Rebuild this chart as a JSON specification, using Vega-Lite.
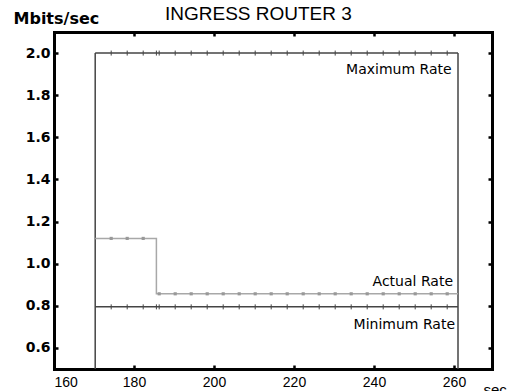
{
  "$schema": "https://vega.github.io/schema/vega-lite/v6.json",
  "width": 438,
  "height": 337,
  "autosize": {"type": "none"},
  "padding": {"left": 54, "top": 32, "right": 22, "bottom": 22},
  "background": "white",
  "view": {"stroke": null, "fill": "white"},
  "title": {"text": "INGRESS ROUTER 3", "anchor": "start", "dx": 152, "offset": -29, "baseline": "alphabetic", "font": "Liberation Sans", "fontSize": 19, "fontWeight": "normal", "color": "black"},
  "resolve": {"axis": {"x": "independent", "y": "independent"}},
  "datasets": {
    "lines": [
      {"series": "max", "t": 170.3, "v": 2.0, "o": 1},
      {"series": "max", "t": 261, "v": 2.0, "o": 2},
      {"series": "min", "t": 170.3, "v": 0.795, "o": 1},
      {"series": "min", "t": 261, "v": 0.795, "o": 2},
      {"series": "actual", "t": 170.3, "v": 1.12, "o": 1},
      {"series": "actual", "t": 185.6, "v": 1.12, "o": 2},
      {"series": "actual", "t": 185.6, "v": 0.857, "o": 3},
      {"series": "actual", "t": 261, "v": 0.857, "o": 4}
    ],
    "bounds": [
      {"t": 170.3, "v0": 0.5, "v1": 2.0},
      {"t": 261, "v0": 0.5, "v1": 2.0}
    ],
    "limitMarks": [
      {"t": 174.3, "max": 2.0, "min": 0.795}, {"t": 178.3, "max": 2.0, "min": 0.795},
      {"t": 182.3, "max": 2.0, "min": 0.795}, {"t": 185.6, "max": 2.0, "min": 0.795},
      {"t": 186.3, "max": 2.0, "min": 0.795}, {"t": 190.3, "max": 2.0, "min": 0.795},
      {"t": 194.3, "max": 2.0, "min": 0.795}, {"t": 198.3, "max": 2.0, "min": 0.795},
      {"t": 202.3, "max": 2.0, "min": 0.795}, {"t": 206.3, "max": 2.0, "min": 0.795},
      {"t": 210.3, "max": 2.0, "min": 0.795}, {"t": 214.3, "max": 2.0, "min": 0.795},
      {"t": 218.3, "max": 2.0, "min": 0.795}, {"t": 222.3, "max": 2.0, "min": 0.795},
      {"t": 226.3, "max": 2.0, "min": 0.795}, {"t": 230.3, "max": 2.0, "min": 0.795},
      {"t": 234.3, "max": 2.0, "min": 0.795}, {"t": 238.3, "max": 2.0, "min": 0.795},
      {"t": 242.3, "max": 2.0, "min": 0.795}, {"t": 246.3, "max": 2.0, "min": 0.795},
      {"t": 250.3, "max": 2.0, "min": 0.795}, {"t": 254.3, "max": 2.0, "min": 0.795},
      {"t": 258.3, "max": 2.0, "min": 0.795}
    ],
    "actualMarks": [
      {"t": 174.3, "v": 1.12}, {"t": 178.3, "v": 1.12}, {"t": 182.3, "v": 1.12},
      {"t": 186.3, "v": 0.857}, {"t": 190.3, "v": 0.857}, {"t": 194.3, "v": 0.857},
      {"t": 198.3, "v": 0.857}, {"t": 202.3, "v": 0.857}, {"t": 206.3, "v": 0.857},
      {"t": 210.3, "v": 0.857}, {"t": 214.3, "v": 0.857}, {"t": 218.3, "v": 0.857},
      {"t": 222.3, "v": 0.857}, {"t": 226.3, "v": 0.857}, {"t": 230.3, "v": 0.857},
      {"t": 234.3, "v": 0.857}, {"t": 238.3, "v": 0.857}, {"t": 242.3, "v": 0.857},
      {"t": 246.3, "v": 0.857}, {"t": 250.3, "v": 0.857}, {"t": 254.3, "v": 0.857},
      {"t": 258.3, "v": 0.857}
    ],
    "labels": [
      {"label": "Maximum Rate", "t": 259.4, "v": 1.92},
      {"label": "Actual Rate", "t": 259.75, "v": 0.913},
      {"label": "Minimum Rate", "t": 260.25, "v": 0.709}
    ]
  },
  "layer": [
    {
      "data": {"name": "bounds"},
      "mark": {"type": "rule", "color": "#444444", "strokeWidth": 1.5},
      "encoding": {
        "x": {"field": "t", "type": "quantitative", "scale": {"domain": [160, 269.5], "nice": false, "zero": false},
          "axis": {"orient": "bottom", "values": [160, 180, 200, 220, 240, 260], "grid": false,
            "domain": true, "domainWidth": 3, "domainColor": "black", "domainCap": "square",
            "tickSize": -4, "tickWidth": 2.5, "tickColor": "black", "labelPadding": 10,
            "labelFont": "Liberation Sans", "labelFontSize": 14, "labelColor": "black",
            "title": "sec", "titleFont": "Liberation Sans", "titleFontSize": 15, "titleFontWeight": "normal", "titleColor": "black",
            "titleAlign": "left", "titleBaseline": "alphabetic", "titleAnchor": null, "titleX": 429, "titleY": 25}},
        "y": {"field": "v0", "type": "quantitative", "scale": {"domain": [0.5, 2.1], "nice": false, "zero": false},
          "axis": {"orient": "left", "values": [0.6, 0.8, 1.0, 1.2, 1.4, 1.6, 1.8, 2.0], "format": ".1f", "grid": false,
            "domain": true, "domainWidth": 3, "domainColor": "black", "domainCap": "square",
            "tickSize": -4, "tickWidth": 2.5, "tickColor": "black", "labelPadding": 8,
            "labelFont": "DejaVu Sans", "labelFontSize": 14, "labelFontWeight": "bold", "labelColor": "black",
            "title": "Mbits/sec", "titleFont": "DejaVu Sans", "titleFontSize": 16, "titleFontWeight": "bold", "titleColor": "black",
            "titleAngle": 0, "titleAlign": "left", "titleBaseline": "alphabetic", "titleAnchor": null, "titleX": -41, "titleY": -9}},
        "y2": {"field": "v1"}
      }
    },
    {
      "data": {"name": "lines"},
      "mark": {"type": "line", "strokeWidth": 1.5},
      "encoding": {
        "x": {"field": "t", "type": "quantitative", "axis": null},
        "y": {"field": "v", "type": "quantitative", "axis": null},
        "detail": {"field": "series"},
        "order": {"field": "o"},
        "color": {"field": "series", "type": "nominal", "legend": null,
          "scale": {"domain": ["max", "min", "actual"], "range": ["#444444", "#444444", "#a8a8a8"]}}
      }
    },
    {
      "data": {"name": "limitMarks"},
      "mark": {"type": "point", "shape": "M0,-1L0,1", "size": 25, "strokeWidth": 1, "color": "#444444", "opacity": 1},
      "encoding": {
        "x": {"field": "t", "type": "quantitative", "axis": null},
        "y": {"field": "max", "type": "quantitative", "axis": null}
      }
    },
    {
      "data": {"name": "limitMarks"},
      "mark": {"type": "point", "shape": "M0,-1L0,1", "size": 25, "strokeWidth": 1, "color": "#444444", "opacity": 1},
      "encoding": {
        "x": {"field": "t", "type": "quantitative", "axis": null},
        "y": {"field": "min", "type": "quantitative", "axis": null}
      }
    },
    {
      "data": {"name": "actualMarks"},
      "mark": {"type": "square", "size": 10, "color": "#999999", "opacity": 1},
      "encoding": {
        "x": {"field": "t", "type": "quantitative", "axis": null},
        "y": {"field": "v", "type": "quantitative", "axis": null}
      }
    },
    {
      "data": {"name": "labels"},
      "mark": {"type": "text", "align": "right", "baseline": "middle", "font": "DejaVu Sans", "fontSize": 14, "color": "black"},
      "encoding": {
        "x": {"field": "t", "type": "quantitative", "axis": null},
        "y": {"field": "v", "type": "quantitative", "axis": null},
        "text": {"field": "label"}
      }
    },
    {
      "data": {"name": "bounds"},
      "mark": {"type": "point", "opacity": 0},
      "encoding": {
        "x": {"field": "t", "type": "quantitative",
          "axis": {"orient": "top", "values": [180, 200, 220, 240, 260], "grid": false, "labels": false, "title": null,
            "domain": true, "domainWidth": 3, "domainColor": "black", "domainCap": "square",
            "tickSize": -4, "tickWidth": 2.5, "tickColor": "black"}},
        "y": {"field": "v1", "type": "quantitative",
          "axis": {"orient": "right", "values": [0.6, 0.8, 1.0, 1.2, 1.4, 1.6, 1.8, 2.0], "grid": false, "labels": false, "title": null,
            "domain": true, "domainWidth": 3, "domainColor": "black", "domainCap": "square",
            "tickSize": -4, "tickWidth": 2.5, "tickColor": "black"}}
      }
    }
  ]
}
